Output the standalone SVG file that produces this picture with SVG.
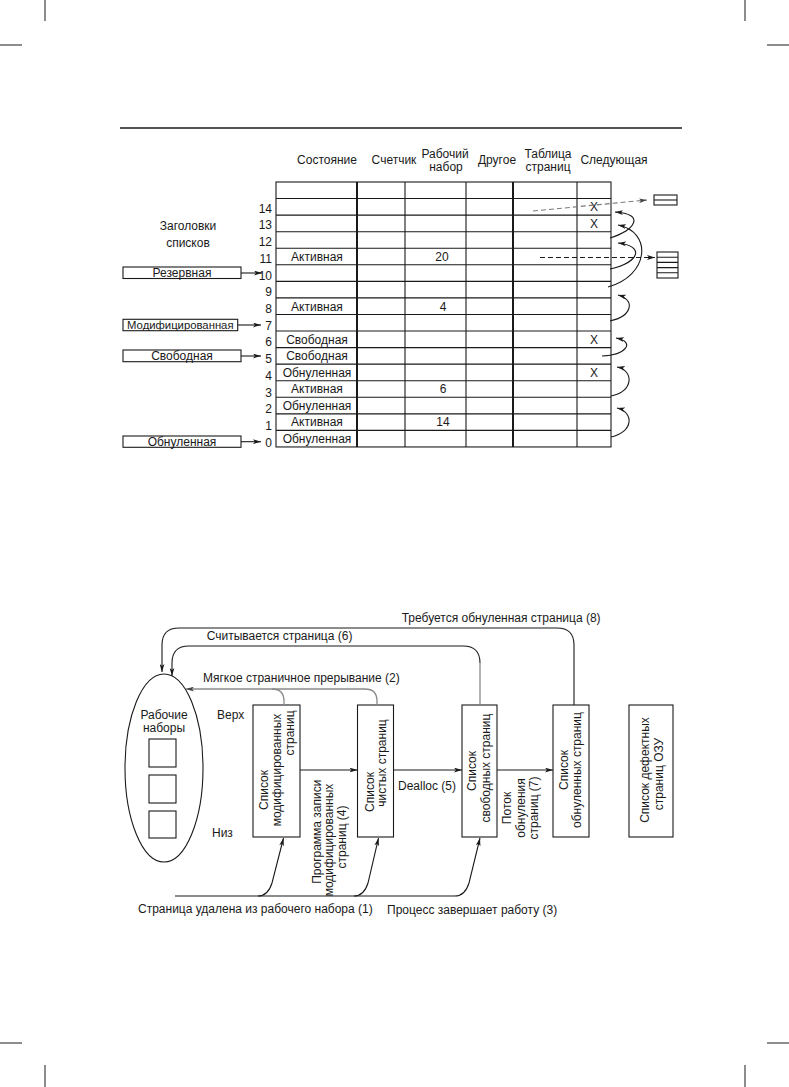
<svg xmlns="http://www.w3.org/2000/svg" width="789" height="1087" viewBox="0 0 789 1087">
<defs>
<style>
text{font-family:"Liberation Sans",Arial,sans-serif;font-size:12px;fill:#1a1a1a}
.c{text-anchor:middle}
.e{text-anchor:end}
.t{font-size:12px}
.ln{fill:none;stroke:#1a1a1a;stroke-width:1.1}
.thk{fill:none;stroke:#1a1a1a;stroke-width:2}
.box{fill:#fff;stroke:#1a1a1a;stroke-width:1.1}
.gr{fill:none;stroke:#8a8a8a;stroke-width:1.3}
.dg{fill:none;stroke:#7a7a7a;stroke-width:1.1;stroke-dasharray:5 3}
.db{fill:none;stroke:#1a1a1a;stroke-width:1.1;stroke-dasharray:5 3}
</style>
<marker id="ah" viewBox="0 0 10 6" refX="10" refY="3" markerWidth="8" markerHeight="5" orient="auto" markerUnits="userSpaceOnUse"><path d="M0,0 L10,3 L0,6 L2.5,3 z" fill="#1a1a1a"/></marker>
<marker id="ahg" viewBox="0 0 10 6" refX="10" refY="3" markerWidth="8" markerHeight="5" orient="auto" markerUnits="userSpaceOnUse"><path d="M0,0 L10,3 L0,6 L2.5,3 z" fill="#444"/></marker>
</defs>
<rect width="789" height="1087" fill="#fff"/>
<g id="cropmarks">
<path d="M45,0V21M0,45H22M745,0V21M767,45H789M0,1043H22M45,1065V1087M767,1043H789M745,1065V1087" class="ln" style="stroke-width:1"/>
</g>
<path d="M120,128H682" class="ln" style="stroke-width:1.5"/>

<g id="table-header">
<text x="327" y="164" class="c">Состояние</text>
<text x="394" y="164" class="c">Счетчик</text>
<text x="445" y="157.5" class="c">Рабочий</text>
<text x="446" y="171" class="c">набор</text>
<text x="497" y="164" class="c">Другое</text>
<text x="548" y="157.5" class="c">Таблица</text>
<text x="548" y="171" class="c">страниц</text>
<text x="614" y="164" class="c">Следующая</text>
</g>

<g id="table">
<rect x="276" y="182" width="335" height="264.96" class="ln"/>
<path class="ln" d="M276,198.56H611M276,215.12H611M276,231.68H611M276,248.24H611M276,264.8H611M276,281.36H611M276,297.92H611M276,314.48H611M276,331.04H611M276,347.6H611M276,364.16H611M276,380.72H611M276,397.28H611M276,413.84H611M276,430.4H611"/>
<path class="ln" d="M405,182V447M466,182V447M577,182V447"/>
<path class="thk" d="M357,182V447M513,182V447"/>
<text x="317" y="260.8" class="c t">Активная</text>
<text x="442" y="260.8" class="c t">20</text>
<text x="317" y="310.5" class="c t">Активная</text>
<text x="443" y="310.5" class="c t">4</text>
<text x="317" y="343.6" class="c t">Свободная</text>
<text x="317" y="360.2" class="c t">Свободная</text>
<text x="317" y="376.7" class="c t">Обнуленная</text>
<text x="317" y="393.3" class="c t">Активная</text>
<text x="443" y="393.3" class="c t">6</text>
<text x="317" y="409.9" class="c t">Обнуленная</text>
<text x="317" y="426.4" class="c t">Активная</text>
<text x="443" y="426.4" class="c t">14</text>
<text x="317" y="443" class="c t">Обнуленная</text>
<text x="594" y="211.1" class="c t">X</text>
<text x="594" y="227.7" class="c t">X</text>
<text x="594" y="343.6" class="c t">X</text>
<text x="594" y="376.7" class="c t">X</text>
</g>

<g id="row-numbers">
<text x="272" y="212.6" class="e t">14</text>
<text x="272" y="229.3" class="e t">13</text>
<text x="272" y="246.1" class="e t">12</text>
<text x="272" y="262.8" class="e t">11</text>
<text x="272" y="279.5" class="e t">10</text>
<text x="272" y="296.3" class="e t">9</text>
<text x="272" y="313" class="e t">8</text>
<text x="272" y="329.7" class="e t">7</text>
<text x="272" y="346.4" class="e t">6</text>
<text x="272" y="363.2" class="e t">5</text>
<text x="272" y="379.9" class="e t">4</text>
<text x="272" y="396.6" class="e t">3</text>
<text x="272" y="413.4" class="e t">2</text>
<text x="272" y="430.1" class="e t">1</text>
<text x="272" y="446.8" class="e t">0</text>
</g>

<g id="list-heads-title">
<text x="188" y="230" class="c t">Заголовки</text>
<text x="188" y="246.5" class="c t">списков</text>
</g>
<g id="head-reserve"><rect x="123" y="267" width="118" height="11.5" class="box"/><text x="182" y="277" class="c t">Резервная</text></g>
<g id="head-modified"><rect x="123" y="319.3" width="114.7" height="11.4" class="box"/><text x="180.3" y="329.2" class="c" style="font-size:11.3px">Модифицированная</text></g>
<g id="head-free"><rect x="123" y="350" width="118" height="11.7" class="box"/><text x="182" y="360.1" class="c t">Свободная</text></g>
<g id="head-zeroed"><rect x="123" y="436" width="118" height="11.3" class="box"/><text x="182" y="446" class="c t">Обнуленная</text></g>

<g id="pt-small"><rect x="654" y="195" width="23" height="10" class="box"/><path d="M654,200H677" class="ln"/></g>
<g id="pt-large"><rect x="657" y="252" width="21" height="26" class="box"/><path d="M657,257.2H678M657,262.4H678M657,267.6H678M657,272.8H678" class="ln"/></g>

<g id="table-connectors">
<path d="M241,273H262" class="ln" marker-end="url(#ah)"/>
<path d="M237.7,325H261" class="ln" marker-end="url(#ah)"/>
<path d="M241,356H261" class="ln" marker-end="url(#ah)"/>
<path d="M241,441.7H261" class="ln" marker-end="url(#ah)"/>
<path d="M533,211L647,200" class="dg" marker-end="url(#ahg)"/>
<path d="M540,257.5H655" class="db" marker-end="url(#ah)"/>
<path d="M610,238C635,230 646,214 615,212" class="ln" marker-end="url(#ah)"/>
<path d="M610,269C640,262 645,246 618,243" class="ln" marker-end="url(#ah)"/>
<path d="M608,287C649,276 653,232 618,225" class="ln" marker-end="url(#ah)"/>
<path d="M610,321C632,316 636,300 618,295" class="ln" marker-end="url(#ah)"/>
<path d="M602,356C626,355 636,342 616,338" class="ln" marker-end="url(#ah)"/>
<path d="M611,396C634,392 634,370 617,367" class="ln" marker-end="url(#ah)"/>
<path d="M611,437C634,432 634,412 617,408" class="ln" marker-end="url(#ah)"/>
</g>

<g id="working-sets">
<ellipse cx="164" cy="768" rx="39" ry="94" class="box"/>
<text x="164" y="719" class="c">Рабочие</text>
<text x="164" y="732" class="c">наборы</text>
<rect x="149" y="739" width="27" height="28" class="box"/>
<rect x="149" y="775" width="27" height="28" class="box"/>
<rect x="149" y="811" width="27" height="27" class="box"/>
</g>
<text x="217" y="719">Верх</text>
<text x="212" y="837">Низ</text>

<g id="modified-list">
<rect x="253" y="705" width="47" height="132" class="box"/>
<text transform="translate(267.5,790) rotate(-90)" class="c">Список</text>
<text transform="translate(281,770) rotate(-90)" class="c">модифицированных</text>
<text transform="translate(294,733) rotate(-90)" class="c">страниц</text>
</g>
<g id="standby-list">
<rect x="357.5" y="705" width="36" height="132" class="box"/>
<text transform="translate(373.5,792) rotate(-90)" class="c">Список</text>
<text transform="translate(386,763) rotate(-90)" class="c">чистых страниц</text>
</g>
<g id="free-list">
<rect x="462" y="705" width="35" height="132" class="box"/>
<text transform="translate(476,771) rotate(-90)" class="c">Список</text>
<text transform="translate(490,768) rotate(-90)" class="c">свободных страниц</text>
</g>
<g id="zeroed-list">
<rect x="553" y="705" width="36" height="132" class="box"/>
<text transform="translate(567.5,770) rotate(-90)" class="c">Список</text>
<text transform="translate(581,770) rotate(-90)" class="c">обнуленных страниц</text>
</g>
<g id="bad-list">
<rect x="629" y="705" width="44" height="132" class="box"/>
<text transform="translate(649,770) rotate(-90)" class="c">Список дефектных</text>
<text transform="translate(662.5,774) rotate(-90)" class="c">страниц ОЗУ</text>
</g>

<g id="connectors">
<path d="M574,705V645Q574,628 557,628H179Q162,628 162,645V672" class="ln" marker-end="url(#ah)"/>
<path d="M480,705V663" class="gr"/>
<path d="M480,663Q480,646 463,646H189Q172,646 172,663V676" class="ln" marker-end="url(#ah)"/>
<path d="M377,705V701Q377,689 365,689H186" class="gr" marker-end="url(#ahg)"/>
<path d="M284,705V701Q284,689 272,689" class="gr"/>
<path d="M300,770H357.5" class="ln" marker-end="url(#ah)"/>
<path d="M393.5,770H462" class="ln" marker-end="url(#ah)"/>
<path d="M497,770H553" class="ln" marker-end="url(#ah)"/>
<path d="M175,896H258Q268,896 272,883L283.5,838" class="ln" marker-end="url(#ah)"/>
<path d="M258,896H354Q364,896 368,883L378.5,838" class="ln" marker-end="url(#ah)"/>
<path d="M354,896H455Q465,896 469,883L480,838" class="ln" marker-end="url(#ah)"/>
</g>

<g id="connector-labels">
<text x="401.7" y="622">Требуется обнуленная страница (8)</text>
<text x="206.7" y="640">Считывается страница (6)</text>
<text x="203" y="682">Мягкое страничное прерывание (2)</text>
<text x="398" y="790">Dealloc (5)</text>
<text transform="translate(321,831.7) rotate(-90)" class="c">Программа записи</text>
<text transform="translate(332.5,840) rotate(-90)" class="c">модифицированных</text>
<text transform="translate(346,837) rotate(-90)" class="c">страниц (4)</text>
<text transform="translate(511,808) rotate(-90)" class="c">Поток</text>
<text transform="translate(524.5,808) rotate(-90)" class="c">обнуления</text>
<text transform="translate(538,808) rotate(-90)" class="c">страниц (7)</text>
<text x="138" y="913">Страница удалена из рабочего набора (1)</text>
<text x="387" y="914">Процесс завершает работу (3)</text>
</g>
</svg>
